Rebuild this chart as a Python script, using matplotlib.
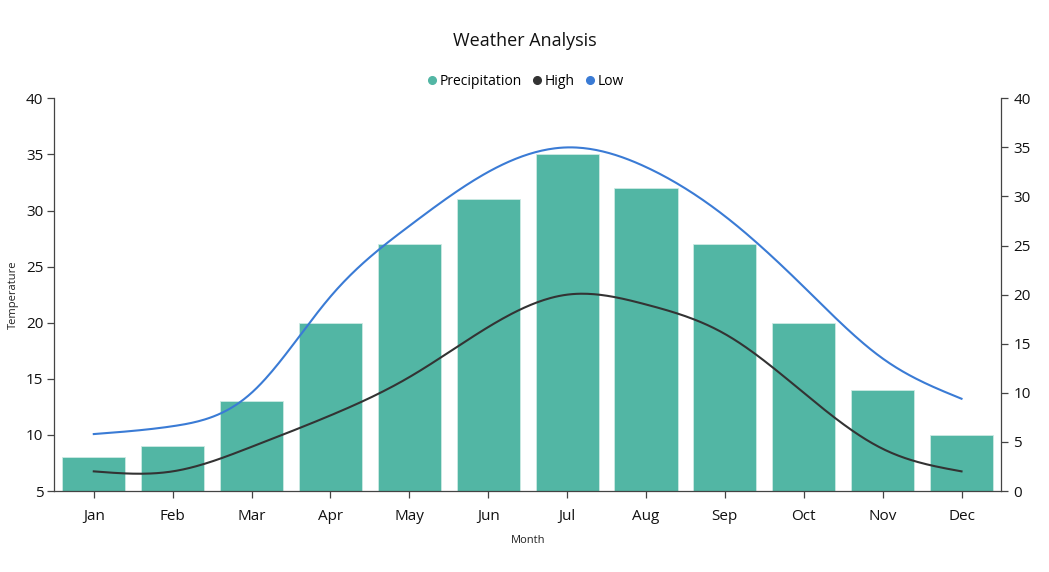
import numpy as np
import matplotlib
matplotlib.use("Agg")
import matplotlib.pyplot as plt
from matplotlib.lines import Line2D

months = ["Jan", "Feb", "Mar", "Apr", "May", "Jun", "Jul", "Aug", "Sep", "Oct", "Nov", "Dec"]
precipitation = [8, 9, 13, 20, 27, 31, 35, 32, 27, 20, 14, 10]
high = [2, 2, 4.5, 7.7, 11.6, 16.7, 20, 19, 16, 10, 4.3, 2]
low = [5.8, 6.6, 10, 19.8, 27, 32.5, 35, 33, 28, 20.8, 13.5, 9.4]

plt.rcParams['font.family'] = ['Open Sans', 'DejaVu Sans']

BAR = '#52b6a4'
HIGH = '#333333'
LOW = '#3a7bd5'
AX = '#444444'


def natural_spline(x, y, n=400):
    x = np.asarray(x, float)
    y = np.asarray(y, float)
    m = len(x)
    h = np.diff(x)
    A = np.zeros((m, m))
    b = np.zeros(m)
    A[0, 0] = 1
    A[-1, -1] = 1
    for i in range(1, m - 1):
        A[i, i - 1] = h[i - 1]
        A[i, i] = 2 * (h[i - 1] + h[i])
        A[i, i + 1] = h[i]
        b[i] = 6 * ((y[i + 1] - y[i]) / h[i] - (y[i] - y[i - 1]) / h[i - 1])
    M = np.linalg.solve(A, b)
    xs = np.linspace(x[0], x[-1], n)
    ys = np.empty_like(xs)
    for k, t in enumerate(xs):
        i = min(np.searchsorted(x, t, side='right') - 1, m - 2)
        dx = t - x[i]
        hi = h[i]
        a = (x[i + 1] - t) / hi
        bb = dx / hi
        ys[k] = (a * y[i] + bb * y[i + 1]
                 + ((a ** 3 - a) * M[i] + (bb ** 3 - bb) * M[i + 1]) * hi ** 2 / 6)
    return xs, ys


fig = plt.figure(figsize=(10.49, 5.72), dpi=100)
ax = fig.add_axes([0.0518, 0.1416, 0.9024, 0.6865])
ax2 = ax.twinx()

xpos = np.arange(len(months))
ax.bar(xpos, precipitation, width=0.8, bottom=0, color=BAR, edgecolor='#cdeae4',
       linewidth=0.6, zorder=2)
ax.set_ylim(5, 40)
ax.set_xlim(-0.5, len(months) - 0.5)
ax.set_yticks(range(5, 41, 5))
ax.set_xticks(xpos)
ax.set_xticklabels(months)

xs, ys = natural_spline(xpos, high)
ax2.plot(xs, ys, color=HIGH, lw=1.5, zorder=3)
xs, ys = natural_spline(xpos, low)
ax2.plot(xs, ys, color=LOW, lw=1.5, zorder=3)
ax2.set_ylim(0, 40)
ax2.set_yticks(range(0, 41, 5))

for a in (ax, ax2):
    a.spines['top'].set_visible(False)
    for s in ('left', 'right', 'bottom'):
        a.spines[s].set_color(AX)
        a.spines[s].set_linewidth(0.9)
    a.tick_params(axis='both', colors=AX, labelcolor='#111111', labelsize=11,
                  length=5, width=0.9)
ax.spines['right'].set_visible(False)
ax2.spines['left'].set_visible(False)
ax2.spines['bottom'].set_visible(False)
ax.tick_params(axis='x', pad=8)
ax.tick_params(axis='y', pad=3)
ax2.tick_params(axis='y', pad=4)

ax.set_xlabel('Month', fontsize=8, color='#222222', labelpad=8)
ax.set_ylabel('Temperature', fontsize=8, color='#222222')
ax.yaxis.set_label_coords(-0.037, 0.5)

fig.text(0.5, 1 - 41 / 572, 'Weather Analysis', ha='center', va='center',
         fontsize=13, color='#111111')

handles = [Line2D([], [], ls='none', marker='o', ms=5.5, color=c) for c in (BAR, HIGH, LOW)]
fig.legend(handles, ['Precipitation', 'High', 'Low'], loc='center',
           bbox_to_anchor=(0.5, 1 - 81 / 572), ncol=3, frameon=False,
           fontsize=10, handletextpad=0.05, columnspacing=0.6, handlelength=1.0,
           borderpad=0)

fig.savefig('out.png', dpi=100)
